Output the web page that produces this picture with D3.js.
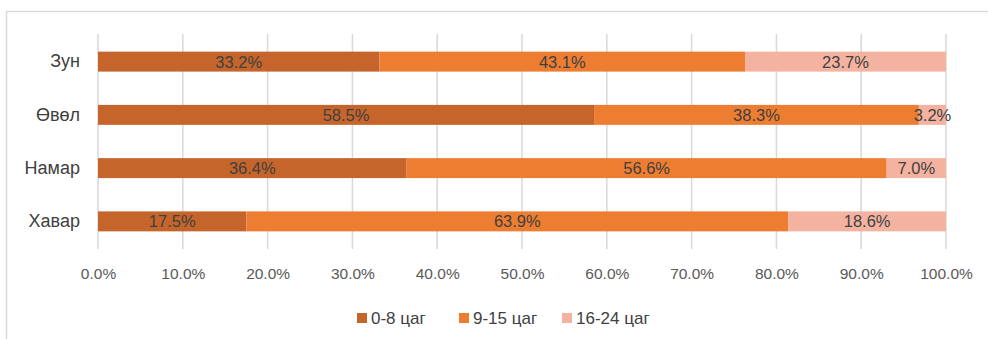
<!DOCTYPE html>
<html>
<head>
<meta charset="utf-8">
<script src="https://cdn.jsdelivr.net/npm/d3@7"></script>
<style>
  html, body { margin: 0; padding: 0; background: #fff; }
  svg { display: block; font-family: "Liberation Sans", Arial, sans-serif; }
</style>
</head>
<body>
<svg id="chart" width="988" height="339"></svg>
<script>
// Seasons (top to bottom) and share of each time band
const seasons = ["Зун", "Өвөл", "Намар", "Хавар"];
const seriesNames = ["0-8 цаг", "9-15 цаг", "16-24 цаг"];
const hours0to8 = [33.2, 58.5, 36.4, 17.5];
const hours9to15 = [43.1, 38.3, 56.6, 63.9];
const hours16to24 = [23.7, 3.2, 7.0, 18.6];
const colors = ["#c5652b", "#ed7d31", "#f4b3a0"];
const tickValues = [0, 10, 20, 30, 40, 50, 60, 70, 80, 90, 100];

const rows = seasons.map((s, i) => ({
  season: s,
  "0-8 цаг": hours0to8[i],
  "9-15 цаг": hours9to15[i],
  "16-24 цаг": hours16to24[i]
}));

const svg = d3.select("#chart");

// chart frame
svg.append("rect")
  .attr("x", 6.5).attr("y", 11.5)
  .attr("width", 1000).attr("height", 400)
  .attr("fill", "none").attr("stroke", "#d9d9d9").attr("stroke-width", 1.5);

const x = d3.scaleLinear().domain([0, 100]).range([98, 946]);
const y = d3.scaleBand().domain(seasons).range([35, 248])
  .paddingInner(0.625).paddingOuter(0.3125);

// vertical gridlines
svg.append("g").selectAll("line").data(tickValues).join("line")
  .attr("x1", d => x(d)).attr("x2", d => x(d))
  .attr("y1", 34).attr("y2", 249)
  .attr("stroke", "#d9d9d9").attr("stroke-width", 1.5);

// x axis labels
const xAxis = d3.axisBottom(x).tickValues(tickValues)
  .tickFormat(d => d.toFixed(1) + "%").tickSize(0).tickPadding(0);
const gx = svg.append("g").attr("transform", "translate(0,267)").call(xAxis);
gx.select(".domain").remove();
gx.selectAll("text")
  .attr("font-size", 15.5).attr("fill", "#595959")
  .attr("font-family", "'Liberation Sans', Arial, sans-serif")
  .attr("dy", "0.75em");

// y axis labels
const yAxis = d3.axisLeft(y).tickSize(0).tickPadding(0);
const gy = svg.append("g").attr("transform", "translate(80,0)").call(yAxis);
gy.select(".domain").remove();
gy.selectAll("text")
  .attr("font-size", 18).attr("fill", "#404040")
  .attr("font-family", "'Liberation Sans', Arial, sans-serif");

// stacked bars
const stack = d3.stack().keys(seriesNames);
const layers = stack(rows);

const layerG = svg.append("g").selectAll("g").data(layers).join("g")
  .attr("fill", (d, i) => colors[i]);

layerG.selectAll("rect").data(d => d).join("rect")
  .attr("x", d => x(d[0]))
  .attr("y", d => y(d.data.season))
  .attr("width", d => x(d[1]) - x(d[0]))
  .attr("height", y.bandwidth());

// value labels centred on each segment
layerG.selectAll("text").data((d) => d.map(v => ({ v, key: d.key }))).join("text")
  .attr("x", d => (x(d.v[0]) + x(d.v[1])) / 2)
  .attr("y", d => y(d.v.data.season) + y.bandwidth() / 2)
  .attr("dy", "0.36em")
  .attr("text-anchor", "middle")
  .attr("font-size", 16.5)
  .attr("fill", "#404040")
  .text(d => d.v.data[d.key].toFixed(1) + "%");

// legend
const legendItems = [
  { name: seriesNames[0], color: colors[0], x: 357 },
  { name: seriesNames[1], color: colors[1], x: 459 },
  { name: seriesNames[2], color: colors[2], x: 562 }
];
const lg = svg.append("g").selectAll("g").data(legendItems).join("g")
  .attr("transform", d => `translate(${d.x},318)`);
lg.append("rect").attr("x", 0).attr("y", -5).attr("width", 10).attr("height", 10)
  .attr("fill", d => d.color);
lg.append("text").attr("x", 14).attr("dy", "0.36em")
  .attr("font-size", 17).attr("fill", "#404040")
  .text(d => d.name);
</script>
</body>
</html>
